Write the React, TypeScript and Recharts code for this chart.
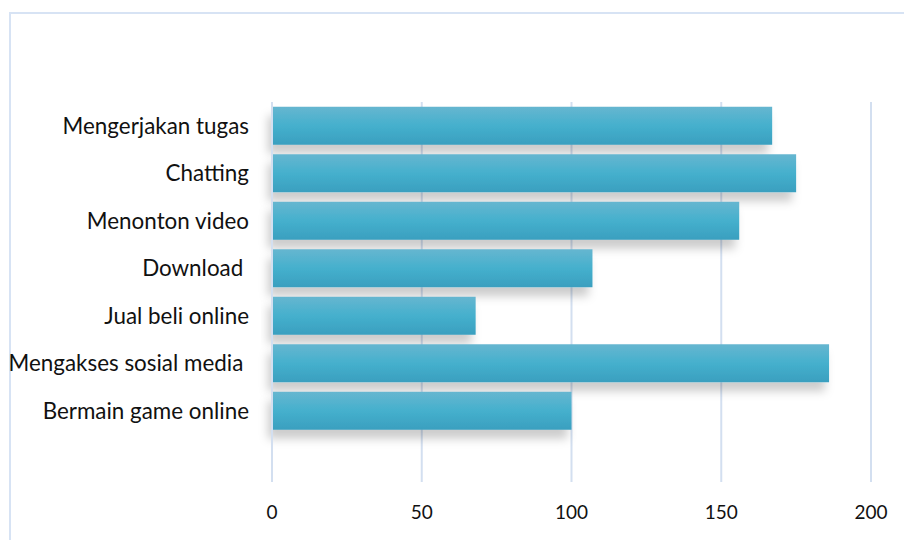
import React from "react";
import { BarChart, Bar, XAxis, YAxis, CartesianGrid } from "recharts";

// kategori (urutan dari atas ke bawah), baris terakhir kosong seperti di grafik asli
const categories = [
  "Mengerjakan tugas",
  "Chatting",
  "Menonton video",
  "Download ",
  "Jual beli online",
  "Mengakses sosial media ",
  "Bermain game online",
  "",
];

const values = [167, 175, 156, 107, 68, 186, 100, null];

const xTicks = [0, 50, 100, 150, 200];

const data = categories.map((name, i) => ({ name, value: values[i] }));

const FONT = "Lato, 'Open Sans', sans-serif";

function YTick(props: any) {
  const { x, y, payload } = props;
  return (
    <text
      x={x}
      y={y}
      dy="0.35em"
      textAnchor="end"
      fontFamily={FONT}
      fontSize={22.4}
      fill="#111"
      style={{ whiteSpace: "pre" }}
    >
      {payload.value}
    </text>
  );
}

export default function App() {
  return (
    <div style={{ position: "absolute", left: 0, top: 0, width: 904, height: 540, background: "#fff" }}>
      {/* frame */}
      <div
        style={{
          position: "absolute",
          left: 9,
          top: 12,
          width: 894,
          height: 540,
          borderTop: "2px solid #d7e3f4",
          borderLeft: "2px solid #d7e3f4",
        }}
      />
      <BarChart
        layout="vertical"
        width={904}
        height={540}
        data={data}
        margin={{ top: 102, right: 33, bottom: 28, left: 0 }}
        barCategoryGap="10%"
        style={{ position: "absolute", left: 0, top: 0 }}
      >
        <defs>
          <linearGradient id="barFill" x1="0" y1="0" x2="0" y2="1">
            <stop offset="0%" stopColor="#66b6d0" />
            <stop offset="50%" stopColor="#45b0cd" />
            <stop offset="100%" stopColor="#3a9fbf" />
          </linearGradient>
          <filter id="barShadow" x="-5%" y="-20%" width="110%" height="170%">
            <feDropShadow dx="-4" dy="9" stdDeviation="5" floodColor="#000" floodOpacity="0.2" />
          </filter>
        </defs>
        <CartesianGrid horizontal={false} stroke="#d3dff0" strokeWidth={2} />
        <XAxis
          type="number"
          domain={[0, 200]}
          ticks={xTicks}
          axisLine={false}
          tickLine={false}
          tickSize={0}
          tickMargin={24}
          tick={{ fontFamily: FONT, fontSize: 19, fill: "#111" }}
        />
        <YAxis
          type="category"
          dataKey="name"
          width={272}
          axisLine={{ stroke: "#d3dff0", strokeWidth: 2 }}
          tickLine={false}
          tickSize={0}
          tickMargin={23}
          tick={<YTick />}
          interval={0}
        />
        <Bar
          dataKey="value"
          fill="url(#barFill)"
          filter="url(#barShadow)"
          isAnimationActive={false}
        />
      </BarChart>
    </div>
  );
}
